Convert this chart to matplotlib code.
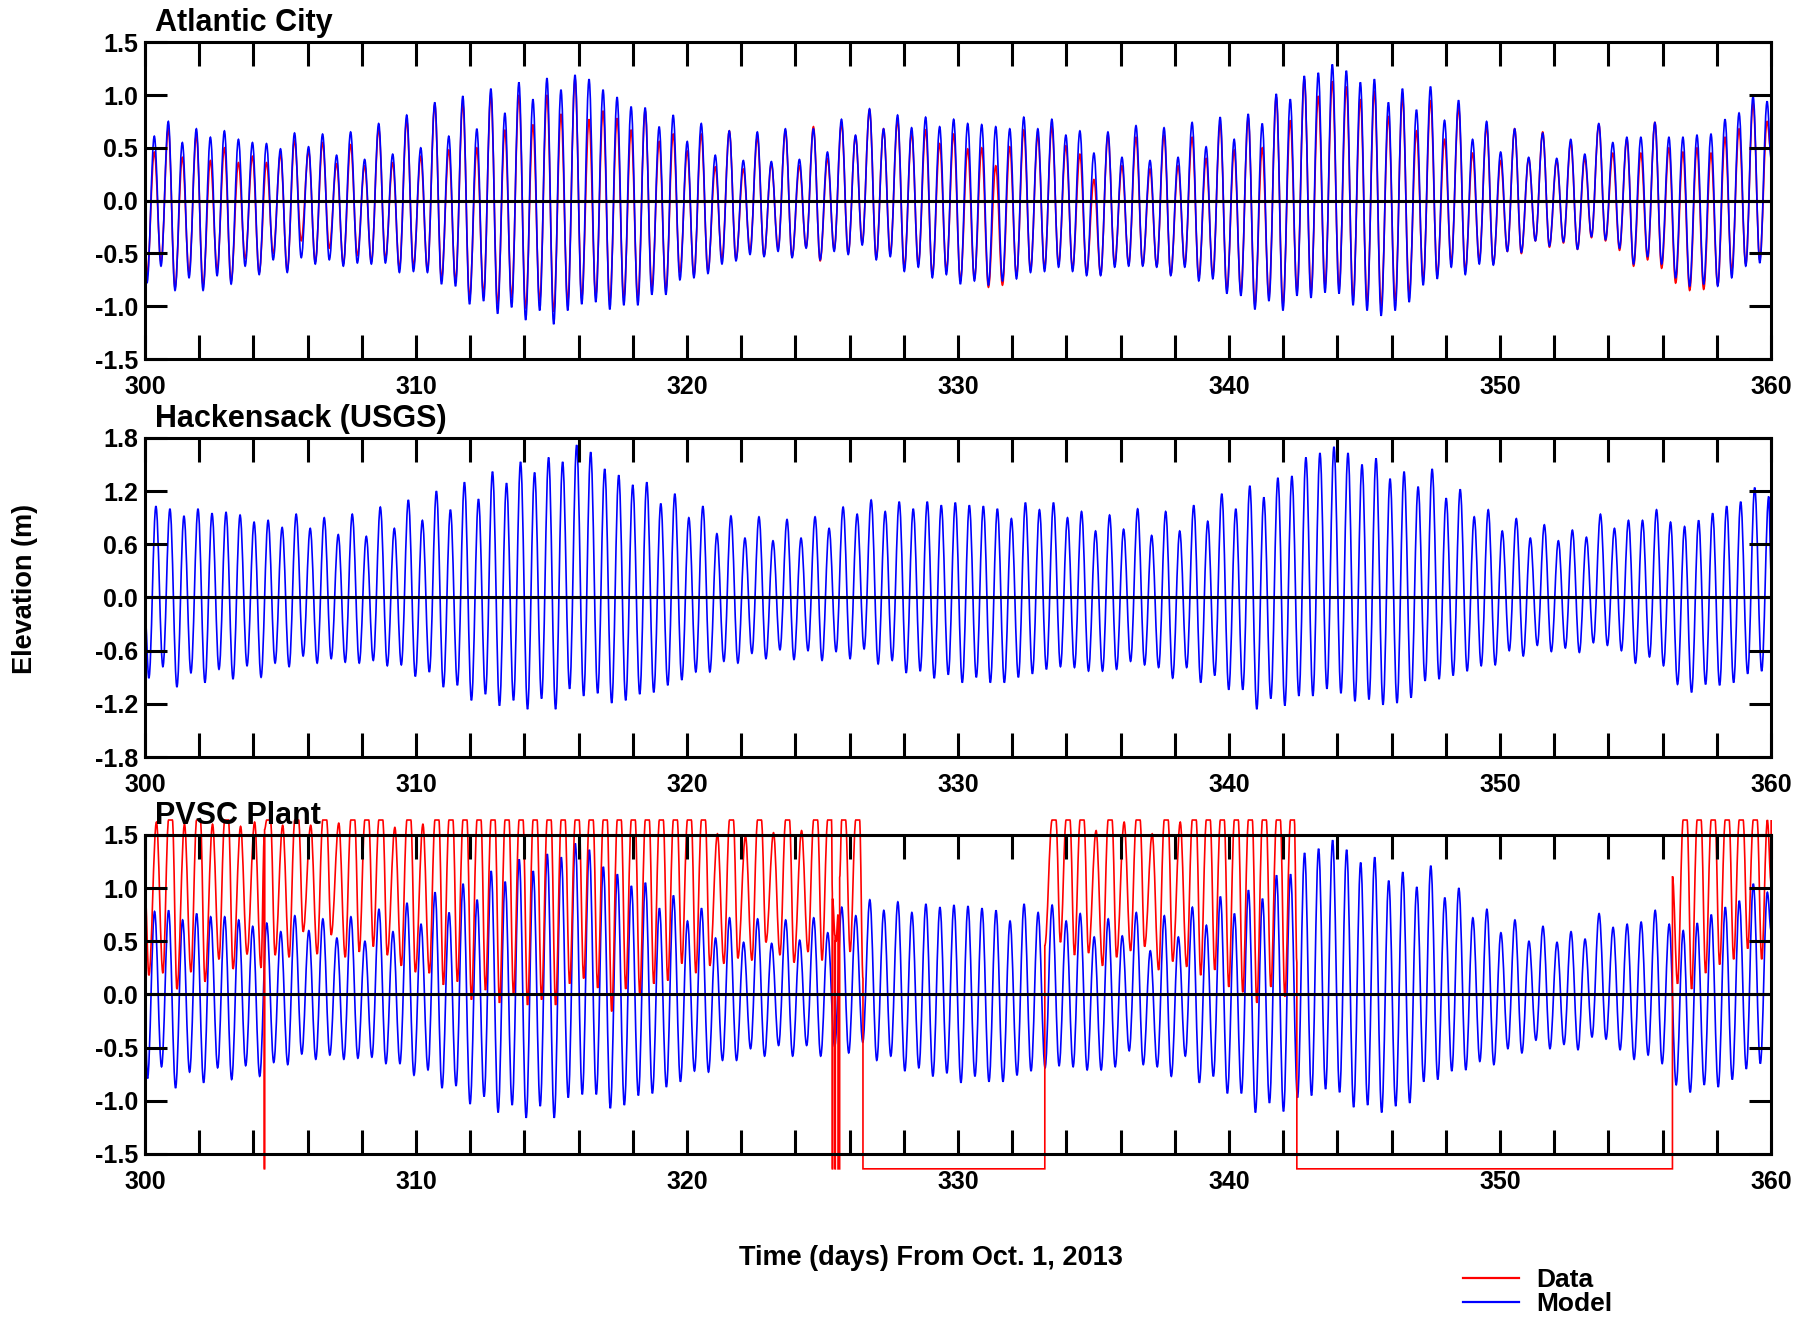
import numpy as np
import matplotlib
matplotlib.use("Agg")
import matplotlib.pyplot as plt
from matplotlib.ticker import FuncFormatter
from matplotlib.path import Path
from matplotlib.patches import PathPatch
from matplotlib.lines import Line2D

plt.rcParams['font.family'] = ['Liberation Sans', 'DejaVu Sans']
plt.rcParams['font.weight'] = 'bold'
plt.rcParams['axes.unicode_minus'] = False

nan = np.nan

# tidal timing (days from Oct. 1, 2013)
tide_period = 0.5175
ac_first_low, ac_first_high = 300.07, 300.34
hack_first_low, hack_first_high = 300.14, 300.40
pvsc_first_low, pvsc_first_high = 300.09, 300.35
pvsc_data_first_low, pvsc_data_first_high = 300.14, 300.42

# ---------------- Atlantic City ----------------
ac_model_high = [
    0.61, 0.75, 0.55, 0.68, 0.60, 0.66, 0.58, 0.55, 0.54, 0.49, 0.64, 0.51, 0.63, 0.43, 0.65, 0.39, 0.73, 0.44, 0.81, 0.50,
    0.93, 0.61, 0.99, 0.68, 1.06, 0.83, 1.12, 0.96, 1.16, 1.05, 1.19, 1.15, 1.05, 0.98, 0.89, 0.88, 0.70, 0.81, 0.56,
    0.73, 0.43, 0.66, 0.38, 0.65, 0.37, 0.68, 0.39, 0.68, 0.46, 0.77, 0.62, 0.87, 0.68, 0.81, 0.69, 0.79, 0.70, 0.77, 0.73,
    0.72, 0.70, 0.68, 0.79, 0.68, 0.77, 0.62, 0.66, 0.45, 0.65, 0.41, 0.71, 0.38, 0.69, 0.41, 0.74, 0.51, 0.79, 0.58, 0.82,
    0.73, 1.01, 0.96, 1.18, 1.21, 1.29, 1.23, 1.12, 1.15, 0.93, 1.06, 0.86, 1.08, 0.76, 0.95, 0.58, 0.75, 0.46, 0.68, 0.41,
    0.64, 0.40, 0.58, 0.44, 0.73, 0.55, 0.60, 0.60, 0.74, 0.60, 0.60, 0.62, 0.63, 0.77, 0.83, 0.99, 0.94]
ac_model_low = [
    -0.78, -0.62, -0.85, -0.73, -0.85, -0.71, -0.79, -0.62, -0.70, -0.56, -0.68, -0.54, -0.60, -0.56, -0.62, -0.59, -0.60, -0.59, -0.68, -0.67,
    -0.68, -0.79, -0.81, -0.98, -0.95, -1.07, -1.01, -1.13, -1.04, -1.17, -1.04, -0.98, -0.96, -1.03, -0.99, -0.99, -0.89, -0.89, -0.75, -0.73,
    -0.69, -0.60, -0.57, -0.51, -0.53, -0.48, -0.54, -0.45, -0.56, -0.48, -0.51, -0.42, -0.56, -0.53, -0.67, -0.63, -0.73, -0.70, -0.79, -0.76,
    -0.80, -0.76, -0.74, -0.68, -0.67, -0.63, -0.67, -0.71, -0.71, -0.63, -0.62, -0.62, -0.63, -0.71, -0.63, -0.76, -0.74, -0.88, -0.90,
    -1.03, -0.95, -1.04, -0.90, -0.92, -0.87, -0.88, -0.99, -1.04, -1.09, -1.04, -0.96, -0.80, -0.74, -0.63, -0.70, -0.60, -0.61, -0.48, -0.49,
    -0.38, -0.43, -0.39, -0.46, -0.34, -0.37, -0.45, -0.60, -0.53, -0.60, -0.73, -0.81, -0.79, -0.81, -0.73, -0.62, -0.59]
ac_data_high = [
    0.46, 0.68, 0.41, 0.62, 0.38, 0.50, 0.36, 0.42, 0.36, 0.44, 0.57, 0.47, 0.55, 0.35, 0.53, 0.33, 0.68, 0.36, 0.76, 0.42,
    0.91, 0.48, 0.92, 0.50, 1.00, 0.67, 1.00, 0.72, 1.00, 0.82, 1.15, 0.77, 0.85, 0.78, 0.67, 0.85, 0.56, 0.63, 0.47,
    0.63, 0.32, 0.66, 0.30, 0.60, 0.35, 0.66, 0.33, 0.70, 0.40, 0.73, 0.61, 0.86, 0.68, 0.76, 0.64, 0.67, 0.54, 0.63, 0.49,
    0.50, 0.33, 0.51, 0.67, 0.62, 0.70, 0.52, 0.44, 0.20, 0.62, 0.33, 0.60, 0.30, 0.62, 0.33, 0.60, 0.40, 0.73, 0.48, 0.78,
    0.50, 0.98, 0.76, 1.15, 0.99, 1.13, 1.08, 0.96, 1.04, 0.80, 0.98, 0.66, 0.95, 0.58, 0.88, 0.45, 0.70, 0.38, 0.68, 0.40,
    0.65, 0.38, 0.55, 0.40, 0.72, 0.45, 0.58, 0.45, 0.74, 0.50, 0.46, 0.50, 0.45, 0.60, 0.68, 0.92, 0.75]
ac_data_low = [
    -0.72, -0.58, -0.82, -0.68, -0.80, -0.65, -0.76, -0.55, -0.68, -0.50, -0.66, -0.38, -0.58, -0.45, -0.60, -0.52, -0.58, -0.55, -0.64, -0.62,
    -0.66, -0.74, -0.76, -0.92, -0.88, -0.98, -0.92, -1.02, -0.95, -1.05, -0.96, -0.92, -0.90, -0.95, -0.92, -0.92, -0.82, -0.84, -0.68, -0.70,
    -0.66, -0.55, -0.55, -0.47, -0.52, -0.45, -0.53, -0.44, -0.57, -0.46, -0.50, -0.40, -0.54, -0.50, -0.63, -0.60, -0.70, -0.66, -0.76, -0.74,
    -0.82, -0.80, -0.71, -0.66, -0.64, -0.60, -0.64, -0.68, -0.70, -0.60, -0.60, -0.61, -0.62, -0.70, -0.60, -0.72, -0.70, -0.84, -0.86,
    -0.98, -0.90, -0.98, -0.85, -0.86, -0.80, -0.82, -0.92, -0.96, -1.00, -0.95, -0.88, -0.74, -0.70, -0.58, -0.66, -0.56, -0.60, -0.48, -0.50,
    -0.38, -0.44, -0.40, -0.46, -0.35, -0.38, -0.47, -0.62, -0.56, -0.64, -0.78, -0.85, -0.84, -0.80, -0.66, -0.60, -0.56]
ac_model_edges = (-0.30, 0.40)
ac_data_edges = (-0.25, 0.45)

# ---------------- Hackensack (USGS) ----------------
hack_model_high = [
    1.03, 1.00, 0.92, 1.00, 0.95, 0.96, 0.93, 0.85, 0.87, 0.79, 0.94, 0.78, 0.90, 0.71, 0.94, 0.69, 1.02, 0.78, 1.10, 0.87,
    1.20, 0.99, 1.30, 1.11, 1.42, 1.29, 1.53, 1.41, 1.58, 1.53, 1.72, 1.64, 1.45, 1.38, 1.27, 1.30, 1.06, 1.17, 0.90,
    1.03, 0.72, 0.92, 0.67, 0.91, 0.64, 0.88, 0.67, 0.91, 0.78, 1.02, 0.94, 1.10, 0.97, 1.08, 1.00, 1.08, 1.04, 1.07, 1.04,
    1.03, 1.00, 0.89, 1.07, 0.99, 1.07, 0.90, 0.97, 0.75, 0.93, 0.77, 1.00, 0.70, 0.97, 0.75, 1.04, 0.86, 1.17, 1.00, 1.26,
    1.13, 1.35, 1.37, 1.58, 1.63, 1.70, 1.63, 1.50, 1.57, 1.34, 1.42, 1.25, 1.45, 1.12, 1.22, 0.91, 0.99, 0.75, 0.89, 0.67,
    0.82, 0.64, 0.76, 0.68, 0.94, 0.78, 0.87, 0.87, 0.99, 0.85, 0.80, 0.87, 0.95, 1.03, 1.08, 1.24, 1.14]
hack_model_low = [
    -0.91, -0.78, -1.01, -0.85, -0.96, -0.81, -0.92, -0.77, -0.90, -0.74, -0.78, -0.66, -0.74, -0.69, -0.73, -0.74, -0.71, -0.77, -0.76, -0.89,
    -0.84, -1.01, -0.99, -1.16, -1.09, -1.22, -1.16, -1.26, -1.14, -1.26, -1.03, -1.11, -1.08, -1.19, -1.16, -1.09, -1.07, -0.99, -0.93, -0.84,
    -0.84, -0.72, -0.74, -0.63, -0.69, -0.59, -0.70, -0.60, -0.71, -0.61, -0.69, -0.58, -0.75, -0.71, -0.85, -0.83, -0.91, -0.87, -0.96, -0.90,
    -0.96, -0.96, -0.90, -0.86, -0.81, -0.78, -0.79, -0.83, -0.83, -0.81, -0.72, -0.76, -0.79, -0.91, -0.79, -0.96, -0.88, -1.04, -1.04,
    -1.26, -1.14, -1.22, -1.11, -1.11, -1.03, -1.08, -1.17, -1.15, -1.21, -1.19, -1.13, -0.94, -0.92, -0.88, -0.83, -0.77, -0.76, -0.60, -0.66,
    -0.54, -0.61, -0.57, -0.62, -0.51, -0.54, -0.60, -0.74, -0.67, -0.77, -0.98, -1.07, -0.98, -0.99, -0.96, -0.86, -0.83]
hack_model_edges = (-0.20, 0.30)

# ---------------- PVSC Plant ----------------
pvsc_model_high = [
    0.78, 0.79, 0.70, 0.76, 0.73, 0.73, 0.70, 0.64, 0.67, 0.59, 0.74, 0.60, 0.71, 0.53, 0.73, 0.50, 0.80, 0.59, 0.86, 0.66,
    0.96, 0.77, 1.04, 0.89, 1.16, 1.06, 1.27, 1.16, 1.32, 1.29, 1.42, 1.36, 1.20, 1.13, 1.02, 1.05, 0.81, 0.93, 0.69,
    0.81, 0.53, 0.72, 0.49, 0.71, 0.48, 0.70, 0.51, 0.72, 0.58, 0.82, 0.74, 0.89, 0.79, 0.87, 0.77, 0.85, 0.82, 0.84, 0.83,
    0.81, 0.79, 0.69, 0.85, 0.77, 0.84, 0.69, 0.76, 0.54, 0.71, 0.55, 0.77, 0.41, 0.74, 0.54, 0.82, 0.65, 0.92, 0.76, 0.98,
    0.90, 1.12, 1.13, 1.33, 1.37, 1.45, 1.36, 1.24, 1.29, 1.07, 1.15, 1.01, 1.21, 0.91, 1.00, 0.72, 0.80, 0.58, 0.70, 0.50,
    0.64, 0.49, 0.59, 0.52, 0.76, 0.63, 0.66, 0.68, 0.79, 0.66, 0.60, 0.67, 0.75, 0.82, 0.88, 1.04, 0.96]
pvsc_model_low = [
    -0.79, -0.68, -0.88, -0.73, -0.83, -0.69, -0.80, -0.67, -0.77, -0.64, -0.66, -0.56, -0.61, -0.57, -0.61, -0.60, -0.59, -0.65, -0.65, -0.76,
    -0.71, -0.88, -0.86, -1.03, -0.96, -1.11, -1.04, -1.16, -1.05, -1.16, -0.97, -0.94, -0.94, -1.07, -1.04, -0.95, -0.93, -0.87, -0.82, -0.72,
    -0.73, -0.62, -0.62, -0.51, -0.58, -0.48, -0.58, -0.48, -0.58, -0.49, -0.55, -0.45, -0.62, -0.58, -0.72, -0.69, -0.77, -0.74, -0.83, -0.77,
    -0.82, -0.82, -0.76, -0.72, -0.69, -0.67, -0.68, -0.71, -0.71, -0.68, -0.53, -0.66, -0.68, -0.77, -0.58, -0.83, -0.77, -0.93, -0.93,
    -1.11, -1.02, -1.10, -0.97, -0.95, -0.89, -0.92, -1.06, -1.04, -1.11, -1.05, -1.02, -0.82, -0.80, -0.72, -0.71, -0.63, -0.66, -0.51, -0.55,
    -0.43, -0.51, -0.47, -0.52, -0.40, -0.42, -0.52, -0.61, -0.57, -0.65, -0.85, -0.92, -0.85, -0.87, -0.80, -0.70, -0.65]
pvsc_model_edges = (-0.25, 0.60)

# gauge readings: 1.64 = sensor top (flat), nan = no record (inside a gap)
pvsc_data_high = (
    [1.62, 1.64, 1.60, 1.64, 1.60, 1.64, 1.58, 1.62, 1.64, 1.59, 1.64, 1.59, 1.64, 1.61, 1.64, 1.64, 1.64, 1.57, 1.64, 1.60]
    + [1.64] * 19
    + [1.64, 1.51, 1.64, 1.49, 1.64, 1.52, 1.64, 1.54, 1.64, 1.64, 1.64, 1.64]
    + [nan] * 13
    + [1.64, 1.64, 1.64, 1.54, 1.64, 1.62, 1.64, 1.51, 1.64, 1.62, 1.64, 1.64, 1.64, 1.64, 1.64, 1.64, 1.64, 1.64]
    + [nan] * 27
    + [1.64] * 7)
pvsc_data_low = (
    [0.18, 0.20, 0.05, 0.21, 0.12, 0.33, 0.24, 0.38, 0.25, 0.37, 0.35, 0.59, 0.38, 0.56, 0.35, 0.40, 0.45, 0.37, 0.27, 0.21,
     0.20, 0.09, 0.12, -0.05, 0.04, -0.08, -0.01, -0.10, -0.05, -0.10, 0.10, 0.15, 0.06, -0.16, 0.05, 0.01, 0.10, 0.13, 0.29, 0.20,
     0.27, 0.29, 0.34, 0.32, 0.49, 0.37, 0.30, 0.40, 0.32, 0.50, 0.40, 0.18]
    + [nan] * 13
    + [0.49, 0.37, 0.39, 0.27, 0.35, 0.41, 0.45, 0.23, 0.31, 0.26, 0.18, 0.23, 0.07, 0.02, -0.08, 0.07, -0.02]
    + [nan] * 27
    + [0.10, 0.05, 0.20, 0.28, 0.33, 0.43, 0.33])
pvsc_data_edges = (0.98, 1.05)
pvsc_sensor_top = 1.64
pvsc_sensor_floor = -1.64
# dropouts: (start day, end day, level before, level after)
pvsc_dropouts = [
    (304.40, 304.41, 1.50, 1.55),
    (325.36, 325.37, 0.95, 0.90),
    (325.46, 325.47, 0.55, 0.50),
    (325.57, 325.63, 0.75, 1.10),
    (326.49, 333.20, 0.15, 0.46),
    (342.50, 356.36, 0.30, 1.11),
]


def tide_series(first_low, first_high, lows, highs, edges, top=None, dropouts=(), floor=None):
    pts = []
    for i, v in enumerate(lows):
        pts.append((first_low + i * tide_period, v))
    for i, v in enumerate(highs):
        t = first_high + i * tide_period
        if top is not None and v >= top:
            pts += [(t - 0.07, top), (t + 0.07, top)]
        else:
            pts.append((t, v))
    pts = [p for p in pts if not np.isnan(p[1])]
    for a, b, v_in, v_out in dropouts:
        pts = [p for p in pts if not (a <= p[0] <= b)]
        pts += [(a, v_in), (a + 1e-4, floor), (b - 1e-4, floor), (b, v_out)]
    pts += [(300.0, edges[0]), (360.0, edges[1])]
    pts.sort()
    return pts


def wave_patch(pts, color, clip=True):
    # smooth S-shaped segments between successive highs and lows (flat tangent at each extreme)
    verts = [pts[0]]
    codes = [Path.MOVETO]
    for (x0, y0), (x1, y1) in zip(pts[:-1], pts[1:]):
        d = 0.363 * (x1 - x0)
        verts += [(x0 + d, y0), (x1 - d, y1), (x1, y1)]
        codes += [Path.CURVE4] * 3
    return PathPatch(Path(verts, codes), facecolor='none', edgecolor=color, lw=1.2, clip_on=clip)


fig = plt.figure(figsize=(18.18, 13.2), dpi=100)
ax1 = fig.add_axes([0.0798, 0.728, 0.8944, 0.240])
ax2 = fig.add_axes([0.0798, 0.4265, 0.8944, 0.2417])
ax3 = fig.add_axes([0.0798, 0.1258, 0.8944, 0.2417])

red, blue = '#ff0000', '#0000ff'

ax1.add_patch(wave_patch(tide_series(ac_first_low, ac_first_high, ac_data_low, ac_data_high, ac_data_edges), red))
ax1.add_patch(wave_patch(tide_series(ac_first_low, ac_first_high, ac_model_low, ac_model_high, ac_model_edges), blue))

ax2.add_patch(wave_patch(tide_series(hack_first_low, hack_first_high, hack_model_low, hack_model_high,
                                     hack_model_edges), blue))

ax3.add_patch(wave_patch(tide_series(pvsc_first_low, pvsc_first_high, pvsc_model_low, pvsc_model_high,
                                     pvsc_model_edges), blue))
ax3.add_patch(wave_patch(tide_series(pvsc_data_first_low, pvsc_data_first_high, pvsc_data_low, pvsc_data_high,
                                     pvsc_data_edges, top=pvsc_sensor_top, dropouts=pvsc_dropouts,
                                     floor=pvsc_sensor_floor), red, clip=False))

titles = ['Atlantic City', 'Hackensack (USGS)', 'PVSC Plant']
ylims = [(-1.5, 1.5), (-1.8, 1.8), (-1.5, 1.5)]
ysteps = [0.5, 0.6, 0.5]

for ax, title, ylim, ystep in zip([ax1, ax2, ax3], titles, ylims, ysteps):
    ax.set_xlim(300, 360)
    ax.set_ylim(*ylim)
    ax.axhline(0, color='black', lw=2.2, zorder=3)
    ax.set_xticks(np.arange(300, 361, 2))
    ax.xaxis.set_major_formatter(FuncFormatter(lambda v, p: f'{v:.0f}' if round(v) % 10 == 0 else ''))
    ax.set_yticks(np.round(np.arange(ylim[0], ylim[1] + 0.01, ystep), 2))
    ax.yaxis.set_major_formatter(FuncFormatter(lambda v, p: f'{v + 0.0:.1f}'.replace('-0.0', '0.0')))
    ax.tick_params(axis='x', direction='in', length=17, width=2.2, top=True, bottom=True, labelsize=18, pad=11.5)
    ax.tick_params(axis='y', direction='in', length=16, width=2.2, left=True, right=True, labelsize=18, pad=5)
    for s in ax.spines.values():
        s.set_linewidth(2.2)
    ax.text(0.006, 1.035, title, transform=ax.transAxes, fontsize=22, fontweight='bold', va='baseline', zorder=5)

fig.text(25 / 1818, 1 - 589 / 1320, 'Elevation (m)', rotation=90, ha='center', va='center', fontsize=19.5)
fig.text(931 / 1818, 1 - 1258 / 1320, 'Time (days) From Oct. 1, 2013', ha='center', va='center', fontsize=19.5)

legend_handles = [Line2D([], [], color=red, lw=1.6), Line2D([], [], color=blue, lw=1.6)]
fig.legend(legend_handles, ['Data', 'Model'], loc='upper left',
           bbox_to_anchor=(1450 / 1818, 1 - 1255 / 1320), frameon=False, fontsize=19,
           handlelength=2.1, handletextpad=0.65, labelspacing=0.0, borderpad=0)

fig.savefig('out.png', dpi=100)
